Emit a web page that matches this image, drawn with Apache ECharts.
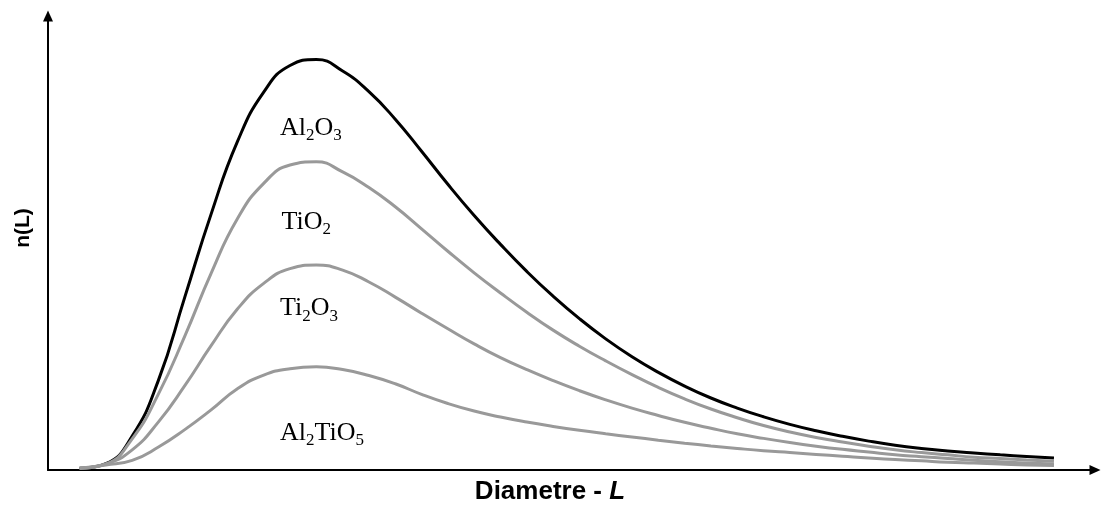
<!DOCTYPE html>
<html><head><meta charset="utf-8">
<script src="https://cdn.jsdelivr.net/npm/echarts@6/dist/echarts.min.js"></script>
<style>html,body{margin:0;padding:0;background:#fff}#c{width:1101px;height:509px}</style>
</head><body><div id="c"></div>
<script>
// Diameter L (arbitrary units) and n(L) (arbitrary units)
const diameter = [3, 5.5, 8, 10.5, 13, 15.5, 18, 20.5, 23, 25.5, 28, 30.5, 33, 35.5, 38, 40.5, 43, 45.5, 48, 50.5,
                  53, 55.5, 58, 60.5, 63, 65.5, 68, 70.5, 73, 75.5, 78, 80.5, 83, 85.5, 88, 90.5, 93, 95.6];
const al2o3   = [0.4, 1.4, 7.4, 19.6, 37.7, 55.8, 71.6, 82.4, 88.2, 89.5, 87.0, 82.5, 76.5, 69.5, 62.3, 55.5, 49.2, 43.3, 37.9, 33.0,
                 28.6, 24.7, 21.3, 18.3, 15.7, 13.5, 11.6, 9.95, 8.55, 7.35, 6.3, 5.4, 4.7, 4.15, 3.7, 3.3, 2.95, 2.6];
const tio2    = [0.4, 1.3, 6.8, 16.6, 29.2, 42.9, 54.8, 62.5, 66.5, 67.2, 65.0, 61.6, 57.4, 52.6, 47.7, 43.0, 38.6, 34.4, 30.5, 27.0,
                 23.8, 20.8, 18.0, 15.5, 13.3, 11.4, 9.7, 8.3, 7.1, 6.1, 5.2, 4.4, 3.8, 3.3, 2.8, 2.5, 2.2, 1.9];
const ti2o3   = [0.4, 1.3, 4.4, 10.5, 18.4, 27.1, 35.1, 40.7, 43.9, 44.7, 43.6, 41.0, 37.7, 34.2, 30.8, 27.5, 24.5, 21.9, 19.5, 17.3,
                 15.3, 13.5, 11.9, 10.4, 9.1, 7.9, 6.9, 6.0, 5.2, 4.5, 3.9, 3.3, 2.9, 2.5, 2.1, 1.8, 1.5, 1.3];
const al2tio5 = [0.4, 1.1, 2.1, 5.0, 8.8, 13.1, 17.7, 20.7, 22.1, 22.5, 21.9, 20.6, 18.8, 16.5, 14.5, 12.85, 11.55, 10.45, 9.5, 8.65,
                 7.9, 7.2, 6.5, 5.85, 5.25, 4.7, 4.2, 3.8, 3.4, 3.0, 2.6, 2.3, 2.0, 1.7, 1.5, 1.3, 1.1, 1.0];

// In-plot labels (rich text with subscripts) and their anchor positions in data units
const labelText = ['{m|Al}{s|2}{m|O}{s|3}', '{m|TiO}{s|2}', '{m|Ti}{s|2}{m|O}{s|3}', '{m|Al}{s|2}{m|TiO}{s|5}'];
const labelL = [22.05, 22.2, 22.05, 22.05];
const labelN = [74.5, 54.1, 35.2, 7.96];

const pairs = ys => diameter.map((x, i) => [x, ys[i]]);
const lineSeries = (name, ys, color) => ({
  name, type: 'line', data: pairs(ys), showSymbol: false, smooth: 0.5,
  lineStyle: { color, width: 3 }, itemStyle: { color }, silent: true, z: 2
});

const chart = echarts.init(document.getElementById('c'), null, { renderer: 'canvas' });
chart.setOption({
  animation: false,
  backgroundColor: '#fff',
  grid: { left: 48, right: 6, top: 16, bottom: 39, containLabel: false, outerBoundsMode: 'none' },
  xAxis: {
    type: 'value', min: 0, max: 99.5,
    axisLine: { show: true, symbol: ['none', 'triangle'], symbolSize: [10, 11], lineStyle: { color: '#000', width: 2 } },
    axisTick: { show: false }, axisLabel: { show: false }, splitLine: { show: false },
    name: 'Diametre - {i|L}', nameLocation: 'middle', nameGap: 9,
    nameTextStyle: {
      fontFamily: 'Liberation Sans', fontWeight: 'bold', fontSize: 26, color: '#000',
      padding: [0, 43, 0, 0],
      rich: { i: { fontFamily: 'Liberation Sans', fontWeight: 'bold', fontStyle: 'italic', fontSize: 26, color: '#000' } }
    }
  },
  yAxis: {
    type: 'value', min: 0, max: 99,
    axisLine: { show: true, symbol: ['none', 'triangle'], symbolSize: [10, 11], lineStyle: { color: '#000', width: 2 } },
    axisTick: { show: false }, axisLabel: { show: false }, splitLine: { show: false },
    name: 'n(L)', nameLocation: 'middle', nameGap: 14, nameRotate: 90,
    nameTextStyle: { fontFamily: 'Liberation Sans', fontWeight: 'bold', fontSize: 21, color: '#000', padding: [0, 0, 0, 30] }
  },
  series: [
    lineSeries('Al2O3', al2o3, '#000000'),
    lineSeries('TiO2', tio2, '#999999'),
    lineSeries('Ti2O3', ti2o3, '#999999'),
    lineSeries('Al2TiO5', al2tio5, '#999999')
  ]
});

// Place the compound labels through the grid's coordinate system
const graphics = labelText.map((t, i) => {
  const p = chart.convertToPixel({ gridIndex: 0 }, [labelL[i], labelN[i]]);
  return {
    type: 'text', x: p[0], y: p[1], z: 10, silent: true,
    style: {
      text: t, align: 'left', verticalAlign: 'middle', fill: '#000',
      rich: {
        m: { fontFamily: 'Liberation Serif', fontSize: 26, fill: '#000', lineHeight: 32 },
        s: { fontFamily: 'Liberation Serif', fontSize: 17, fill: '#000', lineHeight: 17, verticalAlign: 'bottom' }
      }
    }
  };
});
chart.setOption({ graphic: graphics });
</script>
</body></html>
